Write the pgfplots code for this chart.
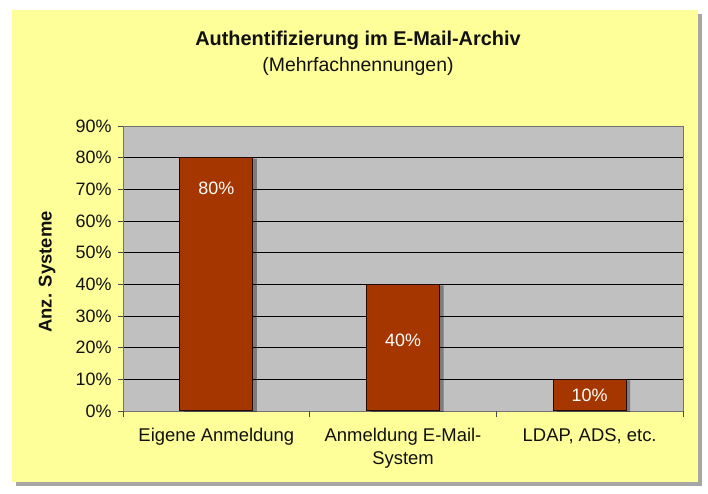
\documentclass[border=0pt]{standalone}
\usepackage{pgfplots}
\pgfplotsset{compat=1.18}
\usepackage{fontspec}
\setmainfont{Liberation Sans}
\definecolor{bgyellow}{HTML}{FFFF99}
\definecolor{plotgray}{HTML}{C0C0C0}
\definecolor{barbrown}{HTML}{A63600}
\definecolor{txt}{HTML}{111111}

\begin{document}
\begin{tikzpicture}[x=1bp,y=1bp]
\useasboundingbox (0,0) rectangle (708,494);
% background panel with shadow
\fill[black!35] (16,8) rectangle (702,480);
\fill[bgyellow] (12,12) rectangle (698,484);
% titles
\node[txt,font=\fontsize{20}{24}\selectfont\bfseries] at (358,454) {Authentifizierung im E-Mail-Archiv};
\node[txt,font=\fontsize{19.5}{23}\selectfont] at (358,428) {(Mehrfachnennungen)};
\node[txt,font=\fontsize{18.5}{22}\selectfont\bfseries,rotate=90] at (47,222) {Anz. Systeme};

\begin{axis}[
  at={(123bp,83bp)}, anchor=south west,
  scale only axis, width=560bp, height=285bp,
  xmin=-0.5, xmax=2.5, ymin=0, ymax=90,
  axis background/.style={fill=plotgray},
  axis line style={draw=black!55, line width=0.8pt},
  tick pos=left,
  ytick={0,10,...,90},
  yticklabel={\pgfmathprintnumber{\tick}\%},
  /pgf/number format/assume math mode=true,
  ymajorgrids, major grid style={draw=black, line width=0.9pt},
  ytick style={draw=black!70, line width=0.8pt},
  tick align=outside, major tick length=5bp,
  xtick={0,1,2},
  xticklabels={Eigene Anmeldung,{Anmeldung E-Mail-\\System},{LDAP, ADS, etc.}},
  xtick style={draw=none},
  extra x ticks={-0.5,0.5,1.5,2.5},
  extra x tick labels={},
  extra x tick style={xtick style={draw=black!70, line width=0.8pt}, major tick length=6bp, tick pos=left},
  xticklabel style={align=center, font=\fontsize{18.5}{23}\selectfont, text=txt, yshift=-9bp},
  yticklabel style={font=\fontsize{18}{21}\selectfont, text=txt, xshift=-3bp},
  clip=false,
]
\addplot[ybar, bar width=73bp, fill=barbrown, draw=black!80!barbrown, line width=1pt,
  preaction={draw=none, fill=black, fill opacity=0.35, transform canvas={shift={(4bp,-1bp)}}}]
  coordinates {(0,80) (1,40) (2,10)};
\addplot[draw=none, nodes near coords, point meta=explicit symbolic,
  nodes near coords style={anchor=center, text=white, font=\fontsize{18}{21}\selectfont}]
  coordinates {(0,70.4)[80\%] (1,22.4)[40\%] (2,5)[10\%]};
\end{axis}
\end{tikzpicture}
\end{document}
